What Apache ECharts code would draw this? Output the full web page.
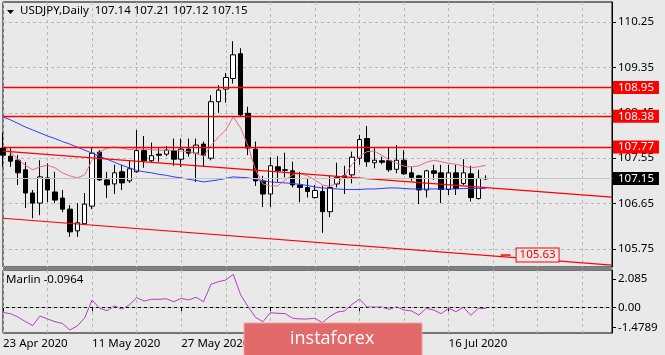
<!DOCTYPE html>
<html>
<head>
<meta charset="utf-8">
<script src="https://cdn.jsdelivr.net/npm/echarts@6.0.0/dist/echarts.min.js"></script>
<style>
html,body{margin:0;padding:0;background:#e9e9e9;}
#chart{width:665px;height:355px;}
</style>
</head>
<body>
<div id="chart"></div>
<script>
const symbolName = 'USDJPY,Daily';
const indicatorName = 'Marlin';
const dates = ['23 Apr 2020','24 Apr 2020','27 Apr 2020','28 Apr 2020','29 Apr 2020','30 Apr 2020',
 '1 May 2020','4 May 2020','5 May 2020','6 May 2020','7 May 2020','8 May 2020','11 May 2020','12 May 2020','13 May 2020','14 May 2020','15 May 2020','18 May 2020','19 May 2020','20 May 2020','21 May 2020','22 May 2020','25 May 2020','26 May 2020','27 May 2020','28 May 2020','29 May 2020',
 '1 Jun 2020','2 Jun 2020','3 Jun 2020','4 Jun 2020','5 Jun 2020','8 Jun 2020','9 Jun 2020','10 Jun 2020','11 Jun 2020','12 Jun 2020','15 Jun 2020','16 Jun 2020','17 Jun 2020','18 Jun 2020','19 Jun 2020','22 Jun 2020','23 Jun 2020','24 Jun 2020','25 Jun 2020','26 Jun 2020','29 Jun 2020','30 Jun 2020',
 '1 Jul 2020','2 Jul 2020','3 Jul 2020','6 Jul 2020','7 Jul 2020','8 Jul 2020','9 Jul 2020','10 Jul 2020','13 Jul 2020','14 Jul 2020','15 Jul 2020','16 Jul 2020','17 Jul 2020','20 Jul 2020','21 Jul 2020','22 Jul 2020','23 Jul 2020'];

const openP = [107.75,107.59,107.51,107.32,106.86,106.66,107.16,106.88,106.76,106.54,
 106.11,106.25,106.60,107.67,107.12,107.04,107.28,107.10,107.28,107.70,
 107.50,107.63,107.63,107.70,107.53,107.73,107.65,107.83,107.55,108.67,
 108.92,109.13,109.62,108.44,107.73,107.10,106.84,107.38,107.32,107.30,
 107.02,106.97,106.77,106.89,106.49,107.04,107.20,107.22,107.55,107.94,
 107.46,107.50,107.50,107.33,107.51,107.26,107.20,106.92,107.30,107.26,
 106.93,107.26,107.05,107.24,106.75,107.14];
const highP = [108.05,107.75,107.61,107.47,106.92,107.51,107.45,107.28,106.92,106.62,
 106.66,106.86,107.75,107.71,107.28,107.42,107.42,107.51,108.11,107.99,
 107.86,107.75,107.79,107.94,107.94,107.94,107.94,107.88,108.80,109.00,
 109.24,109.87,109.73,108.57,107.88,107.20,107.57,107.59,107.66,107.48,
 107.28,107.14,107.02,107.00,107.20,107.46,107.40,107.68,108.01,108.19,
 107.75,107.58,107.77,107.81,107.71,107.38,107.22,107.32,107.42,107.42,
 107.42,107.42,107.53,107.40,107.32,107.21];
const lowP = [107.38,107.38,107.02,106.56,106.36,106.42,106.68,106.66,106.48,105.99,
 105.99,106.23,106.54,107.10,106.76,106.84,106.92,107.06,107.26,107.36,
 107.46,107.48,107.59,107.40,107.38,107.58,107.08,107.38,107.51,108.45,
 108.65,109.03,108.37,107.61,107.00,106.58,106.58,107.08,107.17,106.97,
 106.68,106.77,106.75,106.07,106.38,106.97,106.84,107.05,107.42,107.38,
 107.35,107.43,107.28,107.25,107.22,107.10,106.64,106.77,107.12,106.66,
 106.82,106.82,107.02,106.69,106.73,107.12];
const closeP = [107.61,107.49,107.26,106.86,106.66,107.18,106.92,106.72,106.54,106.09,
 106.27,106.64,107.65,107.12,107.02,107.26,107.06,107.34,107.70,107.50,
 107.60,107.61,107.71,107.53,107.73,107.65,107.81,107.61,108.67,108.90,
 109.15,109.60,108.41,107.75,107.10,106.84,107.40,107.30,107.31,107.02,
 106.97,106.89,106.91,106.49,106.97,107.17,107.15,107.57,107.92,107.48,
 107.51,107.47,107.32,107.51,107.24,107.17,106.92,107.30,107.25,106.93,
 107.26,106.95,107.26,106.77,107.15,107.15];

const maSlow = [108.37,108.31,108.24,108.17,108.11,108.05,107.99,107.94,107.88,107.83,
 107.77,107.71,107.65,107.59,107.53,107.47,107.41,107.36,107.31,107.28,
 107.26,107.23,107.21,107.18,107.16,107.13,107.11,107.08,107.10,107.12,
 107.15,107.18,107.17,107.16,107.13,107.10,107.08,107.07,107.06,107.05,
 107.03,107.01,106.98,106.96,106.95,106.94,106.93,106.93,106.93,106.94,
 106.94,106.95,106.96,106.96,106.95,106.94,106.94,106.94,106.94,106.94,
 106.94,106.94,106.95,106.95,106.95,106.95];
const maFast = [107.81,107.67,107.53,107.41,107.32,107.38,107.41,107.36,107.26,107.20,
 107.16,107.22,107.51,107.67,107.75,107.77,107.75,107.72,107.73,107.73,
 107.72,107.71,107.71,107.71,107.69,107.68,107.64,107.59,107.80,107.97,
 108.11,108.37,108.15,107.79,107.32,107.04,107.00,107.00,107.12,107.22,
 107.25,107.20,107.12,107.02,106.99,107.06,107.20,107.43,107.59,107.68,
 107.69,107.61,107.51,107.45,107.39,107.38,107.40,107.47,107.51,107.48,
 107.45,107.43,107.39,107.36,107.38,107.41];
const marlin = [-0.38,-0.47,-0.71,-1.05,-1.34,-0.64,-0.86,-1.06,-1.19,-1.67,
 -1.38,-0.77,0.54,-0.07,-0.25,0.10,-0.13,0.17,0.71,0.46,
 0.59,0.59,0.63,0.41,0.66,0.54,0.74,0.41,1.69,1.89,
 2.01,2.43,0.91,0.04,-0.74,-1.06,-0.40,-0.44,-0.47,-0.81,
 -0.86,-0.86,-0.81,-1.13,-0.68,-0.35,-0.27,0.22,0.61,0.02,
 0.02,0.02,-0.15,0.04,-0.20,-0.27,-0.57,-0.07,-0.20,-0.47,
 -0.07,-0.32,0.00,-0.59,-0.07,-0.0964];

const levels = [108.95, 108.38, 107.77];
const priceTicks = [105.75, 106.65, 107.55, 108.45, 109.35, 110.25];
const marlinTicks = [-1.4789, 0, 2.085];
const marlinTickText = ['-1.4789', '0.00', '2.085'];
const upperChannel = [[0, 107.69], [82, 106.78]];
const lowerChannel = [[0, 106.36], [82, 105.43]];
const channelLabel = [[67, 105.63]];

const SLOTS = 83;
const cats = dates.slice();
for (let k = dates.length; k < SLOTS; k++) cats.push('_' + k);
const isLabelIdx = i => i < dates.length && i % 12 === 0;
const isGridIdx = i => i % 6 === 0;
const FONT = '"Noto Sans", "DejaVu Sans", sans-serif';
const FS = 11.5;
const last = dates.length - 1;
const RED = '#ff0000';

const candles = dates.map((d, i) => [openP[i], closeP[i], lowP[i], highP[i]]);

const gridLine = {show: true, lineStyle: {color: '#b9b9b9', type: [3, 3], width: 1}};
const levelLabel = {show: true, position: 'end', distance: 1, formatter: p => p.value.toFixed(2),
  backgroundColor: RED, color: '#fff', padding: [1, 5, 0, 5], lineHeight: 12,
  fontFamily: FONT, fontSize: FS};

const levelLines = levels.map(v => ({yAxis: v,
  lineStyle: {color: RED, width: 1.3, type: 'solid', opacity: 1},
  label: levelLabel}));
levelLines.push({yAxis: closeP[last],
  lineStyle: {color: '#c4c4c4', width: 1, type: 'solid', opacity: 1},
  label: Object.assign({}, levelLabel, {backgroundColor: '#000', color: '#fff'})});

const chart = echarts.init(document.getElementById('chart'), null, {renderer: 'canvas'});
chart.setOption({
  animation: false,
  backgroundColor: '#e9e9e9',
  textStyle: {fontFamily: FONT, fontSize: FS, color: '#000'},
  title: [
    {text: symbolName + '  ' + [openP[last], highP[last], lowP[last], closeP[last]].map(v => v.toFixed(2)).join(' '),
     left: 20, top: 5, padding: 0,
     textStyle: {fontFamily: FONT, fontSize: FS, fontWeight: 'normal', color: '#000'}},
    {text: indicatorName + ' ' + marlin[last].toFixed(4),
     left: 6, top: 274, padding: 0,
     textStyle: {fontFamily: FONT, fontSize: FS, fontWeight: 'normal', color: '#000'}}
  ],
  grid: [
    {left: 3, right: 53, top: 2, bottom: 88, show: true, borderColor: '#000', borderWidth: 1},
    {left: 3, right: 53, top: 270, bottom: 22, show: true, borderColor: '#000', borderWidth: 1}
  ],
  xAxis: [
    {type: 'category', gridIndex: 0, data: cats, boundaryGap: false,
     axisLine: {show: false}, axisTick: {show: false}, axisLabel: {show: false},
     splitLine: Object.assign({interval: (i) => isGridIdx(i)}, gridLine)},
    {type: 'category', gridIndex: 1, data: cats, boundaryGap: false,
     axisLine: {show: true, lineStyle: {color: '#000'}},
     axisTick: {show: true, interval: (i) => isLabelIdx(i), length: 4, lineStyle: {color: '#000'}},
     axisLabel: {show: true, interval: (i) => isLabelIdx(i), align: 'left', margin: 5,
       color: '#000', fontFamily: FONT, fontSize: FS,
       formatter: v => (v.charAt(0) === '_' ? '' : v)},
     splitLine: Object.assign({interval: (i) => isGridIdx(i)}, gridLine)}
  ],
  yAxis: [
    {type: 'value', gridIndex: 0, position: 'right', min: 105.393, max: 110.647, scale: true,
     axisLine: {show: true, lineStyle: {color: '#000'}},
     axisTick: {show: true, length: 4, customValues: priceTicks, lineStyle: {color: '#000'}},
     axisLabel: {customValues: priceTicks, formatter: v => v.toFixed(2), margin: 6,
       color: '#000', fontFamily: FONT, fontSize: FS},
     splitLine: gridLine},
    {type: 'value', gridIndex: 1, position: 'right', min: -1.894, max: 2.749,
     axisLine: {show: true, lineStyle: {color: '#000'}},
     axisTick: {show: true, length: 4, customValues: marlinTicks, lineStyle: {color: '#000'}},
     axisLabel: {customValues: marlinTicks, margin: 6, color: '#000', fontFamily: FONT, fontSize: FS,
       formatter: v => { const k = marlinTicks.findIndex(t => Math.abs(t - v) < 1e-6); return k >= 0 ? marlinTickText[k] : ''; }},
     splitLine: {show: false}}
  ],
  series: [
    {type: 'candlestick', xAxisIndex: 0, yAxisIndex: 0, data: candles, barWidth: 5, z: 3,
     itemStyle: {color: '#ffffff', color0: '#000000', borderColor: '#000000', borderColor0: '#000000', borderWidth: 1}},
    {type: 'line', xAxisIndex: 0, yAxisIndex: 0, data: maSlow, symbol: 'none', z: 4,
     lineStyle: {color: '#2e3cff', width: 1}},
    {type: 'line', xAxisIndex: 0, yAxisIndex: 0, data: maFast, symbol: 'none', z: 4,
     lineStyle: {color: '#ea6a82', width: 1}},
    {type: 'line', xAxisIndex: 0, yAxisIndex: 0, data: upperChannel, symbol: 'none', z: 5,
     color: RED, lineStyle: {color: RED, width: 1.2}},
    {type: 'line', xAxisIndex: 0, yAxisIndex: 0, data: lowerChannel, symbol: 'none', z: 5,
     color: RED, lineStyle: {color: RED, width: 1.2},
     markLine: {silent: true, symbol: ['none', 'none'], z: 6, data: levelLines}},
    {type: 'scatter', xAxisIndex: 0, yAxisIndex: 0, data: channelLabel, z: 7,
     symbol: 'rect', symbolSize: [10, 1.5], symbolOffset: [5, 0], itemStyle: {color: RED, opacity: 1},
     label: {show: true, position: 'right', distance: 6, formatter: p => p.value[1].toFixed(2),
       color: RED, opacity: 1, borderColor: RED, borderWidth: 1, padding: [1, 3, 0, 3],
       backgroundColor: '#e9e9e9', fontFamily: FONT, fontSize: FS}},
    {type: 'line', xAxisIndex: 1, yAxisIndex: 1, data: marlin, symbol: 'none', z: 4,
     lineStyle: {color: '#b23fbf', width: 1},
     markLine: {silent: true, symbol: ['none', 'none'], label: {show: false},
       data: [{yAxis: 0}], lineStyle: {color: '#b9b9b9', type: [3, 3], width: 1}}}
  ],
  graphic: [
    {type: 'rect', shape: {x: 3, y: 267, width: 609, height: 3}, style: {fill: '#808080'}, z: 50},
    {type: 'polygon', shape: {points: [[7, 10], [14, 10], [10.5, 14]]}, style: {fill: '#000'}, z: 50},
    {type: 'rect', shape: {x: 244, y: 323, width: 178, height: 33}, style: {fill: '#e36a6a', stroke: '#f0a0a0', lineWidth: 1}, z: 100},
    {type: 'text', x: 290, y: 339, z: 101,
     style: {text: 'instaforex', fill: '#ffffff', font: '18px "Open Sans", "Noto Sans", sans-serif', verticalAlign: 'middle', align: 'left'}}
  ]
});
</script>
</body>
</html>
